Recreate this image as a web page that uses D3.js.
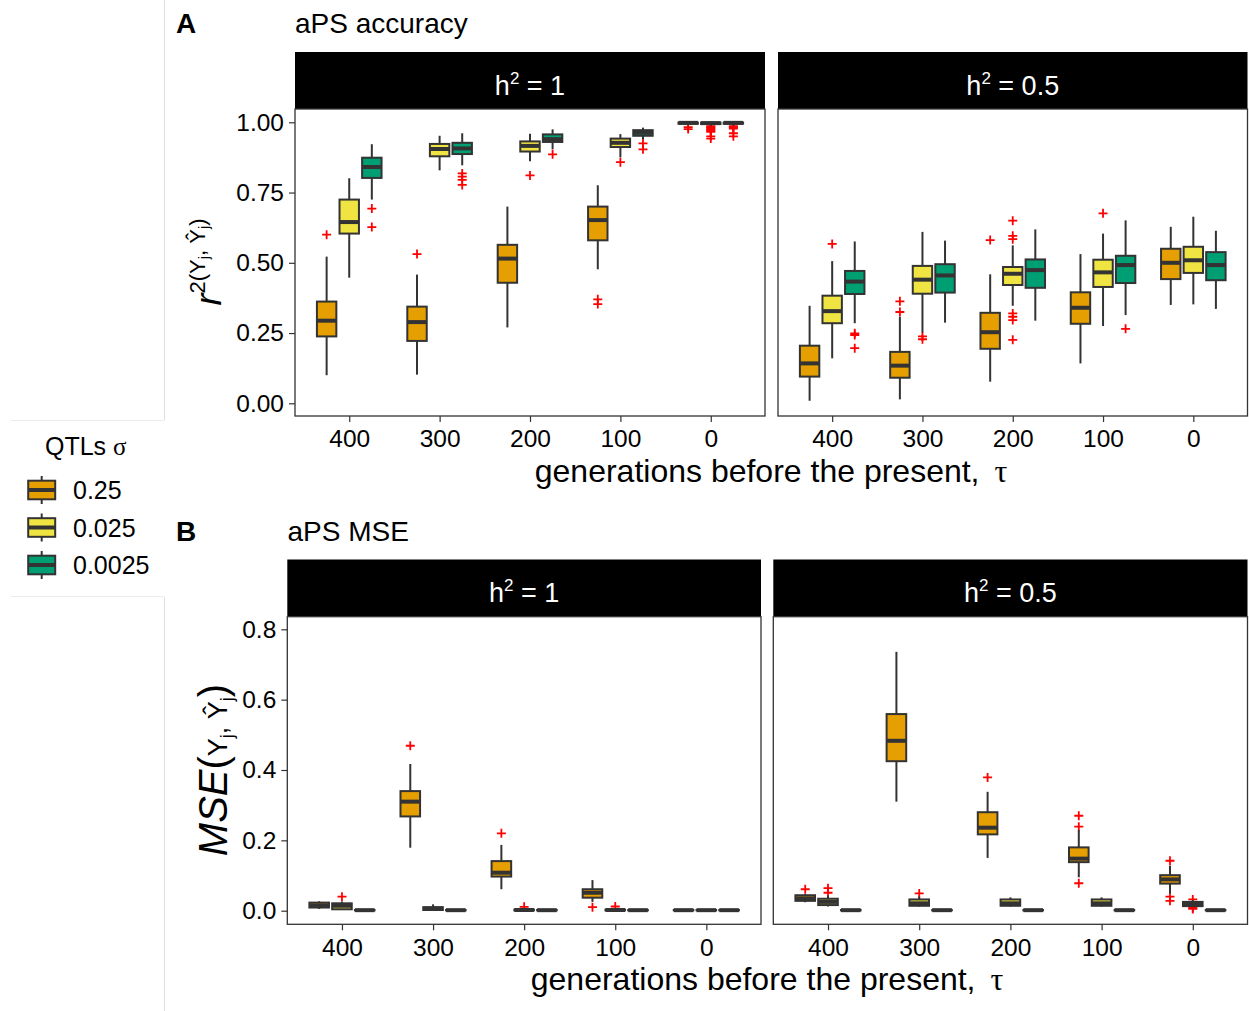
<!DOCTYPE html>
<html>
<head>
<meta charset="utf-8">
<script src="https://cdn.jsdelivr.net/npm/d3@7"></script>
<style>
  body { margin: 0; background: #fff; }
  svg { font-family: "Liberation Sans", Arial, Helvetica, sans-serif; }
</style>
</head>
<body>
<svg id="chart" width="1249" height="1011"></svg>
<script>
const gens = ["400", "300", "200", "100", "0"];
const groups = ["0.25", "0.025", "0.0025"];
const groupColors = ["#E69F00", "#F0E442", "#009E73"];

// rows: generation, QTL sigma, lower whisker, q1, median, q3, upper whisker, outliers
const accH1 = [
  ["400", "0.25",   0.100, 0.238, 0.294, 0.362, 0.522, [0.600]],
  ["400", "0.025",  0.447, 0.604, 0.645, 0.725, 0.801, []],
  ["400", "0.0025", 0.725, 0.802, 0.841, 0.874, 0.922, [0.693, 0.627]],
  ["300", "0.25",   0.102, 0.222, 0.289, 0.344, 0.458, [0.531]],
  ["300", "0.025",  0.829, 0.879, 0.905, 0.923, 0.952, []],
  ["300", "0.0025", 0.847, 0.887, 0.907, 0.927, 0.961, [0.818, 0.807, 0.795, 0.777]],
  ["200", "0.25",   0.270, 0.429, 0.515, 0.564, 0.700, []],
  ["200", "0.025",  0.861, 0.896, 0.916, 0.932, 0.959, [0.811]],
  ["200", "0.0025", 0.904, 0.930, 0.940, 0.957, 0.975, [0.886]],
  ["100", "0.25",   0.477, 0.580, 0.652, 0.700, 0.776, [0.370, 0.353]],
  ["100", "0.025",  0.875, 0.912, 0.927, 0.942, 0.958, [0.858]],
  ["100", "0.0025", 0.940, 0.952, 0.963, 0.972, 0.981, [0.925, 0.904]],
  ["0",   "0.25",   0.990, 0.995, 0.998, 0.999, 1.000, [0.983, 0.976]],
  ["0",   "0.025",  0.988, 0.994, 0.997, 0.999, 1.000, [0.986, 0.982, 0.978, 0.974, 0.970, 0.966, 0.950, 0.942]],
  ["0",   "0.0025", 0.989, 0.995, 0.998, 0.999, 1.000, [0.986, 0.982, 0.978, 0.961, 0.950]]
];

const accH05 = [
  ["400", "0.25",   0.009, 0.095, 0.142, 0.205, 0.347, []],
  ["400", "0.025",  0.160, 0.285, 0.328, 0.383, 0.506, [0.567]],
  ["400", "0.0025", 0.285, 0.389, 0.433, 0.471, 0.576, [0.249, 0.243, 0.196]],
  ["300", "0.25",   0.014, 0.091, 0.134, 0.183, 0.308, [0.363, 0.325]],
  ["300", "0.025",  0.252, 0.390, 0.440, 0.489, 0.610, [0.238, 0.228]],
  ["300", "0.0025", 0.287, 0.394, 0.455, 0.495, 0.579, []],
  ["200", "0.25",   0.077, 0.194, 0.253, 0.322, 0.459, [0.581]],
  ["200", "0.025",  0.347, 0.421, 0.461, 0.485, 0.562, [0.650, 0.596, 0.584, 0.320, 0.308, 0.296, 0.226]],
  ["200", "0.0025", 0.294, 0.411, 0.474, 0.512, 0.619, []],
  ["100", "0.25",   0.142, 0.283, 0.340, 0.395, 0.531, []],
  ["100", "0.025",  0.275, 0.414, 0.466, 0.511, 0.604, [0.676]],
  ["100", "0.0025", 0.314, 0.428, 0.492, 0.525, 0.651, [0.265]],
  ["0",   "0.25",   0.350, 0.442, 0.500, 0.550, 0.628, []],
  ["0",   "0.025",  0.352, 0.464, 0.509, 0.557, 0.664, []],
  ["0",   "0.0025", 0.336, 0.438, 0.492, 0.538, 0.614, []]
];

const mseH1 = [
  ["400", "0.25",   0.005, 0.009, 0.015, 0.023, 0.027, []],
  ["400", "0.025",  0.002, 0.004, 0.014, 0.021, 0.026, [0.040]],
  ["400", "0.0025", 0.000, 0.001, 0.0015, 0.002, 0.003, []],
  ["300", "0.25",   0.179, 0.268, 0.310, 0.340, 0.417, [0.469]],
  ["300", "0.025",  0.000, 0.002, 0.006, 0.010, 0.018, []],
  ["300", "0.0025", 0.000, 0.001, 0.0015, 0.002, 0.003, []],
  ["200", "0.25",   0.061, 0.097, 0.108, 0.141, 0.187, [0.220]],
  ["200", "0.025",  0.000, 0.001, 0.002, 0.003, 0.004, [0.011]],
  ["200", "0.0025", 0.000, 0.001, 0.0015, 0.002, 0.003, []],
  ["100", "0.25",   0.025, 0.037, 0.051, 0.061, 0.087, [0.010]],
  ["100", "0.025",  0.000, 0.001, 0.002, 0.003, 0.004, [0.012]],
  ["100", "0.0025", 0.000, 0.001, 0.0015, 0.002, 0.003, []],
  ["0",   "0.25",   0.000, 0.001, 0.0015, 0.002, 0.003, []],
  ["0",   "0.025",  0.000, 0.001, 0.0015, 0.002, 0.003, []],
  ["0",   "0.0025", 0.000, 0.001, 0.0015, 0.002, 0.003, []]
];

const mseH05 = [
  ["400", "0.25",   0.024, 0.028, 0.035, 0.044, 0.047, [0.061]],
  ["400", "0.025",  0.012, 0.016, 0.025, 0.034, 0.043, [0.064, 0.051]],
  ["400", "0.0025", 0.000, 0.001, 0.0015, 0.002, 0.003, []],
  ["300", "0.25",   0.310, 0.425, 0.483, 0.559, 0.736, []],
  ["300", "0.025",  0.012, 0.014, 0.021, 0.032, 0.040, [0.049]],
  ["300", "0.0025", 0.000, 0.001, 0.0015, 0.002, 0.003, []],
  ["200", "0.25",   0.150, 0.217, 0.236, 0.280, 0.338, [0.379]],
  ["200", "0.025",  0.012, 0.014, 0.021, 0.032, 0.038, []],
  ["200", "0.0025", 0.000, 0.001, 0.0015, 0.002, 0.003, []],
  ["100", "0.25",   0.095, 0.138, 0.148, 0.180, 0.229, [0.270, 0.239, 0.078]],
  ["100", "0.025",  0.012, 0.014, 0.021, 0.032, 0.038, []],
  ["100", "0.0025", 0.000, 0.001, 0.0015, 0.002, 0.003, []],
  ["0",   "0.25",   0.049, 0.077, 0.089, 0.101, 0.128, [0.142, 0.040, 0.028]],
  ["0",   "0.025",  0.011, 0.013, 0.019, 0.025, 0.030, [0.032, 0.008, 0.005]],
  ["0",   "0.0025", 0.000, 0.001, 0.0015, 0.002, 0.003, []]
];

const accTicks = [0, 0.25, 0.5, 0.75, 1];
const mseTicks = [0, 0.2, 0.4, 0.6, 0.8];

const svg = d3.select("#chart");
const color = d3.scaleOrdinal().domain(groups).range(groupColors);
const dark = "#333333";
const lw = 2;

// light frame around the legend cell
svg.append("line").attr("x1", 164.5).attr("x2", 164.5).attr("y1", 0).attr("y2", 420).attr("stroke", "#dedede");
svg.append("line").attr("x1", 164.5).attr("x2", 164.5).attr("y1", 597).attr("y2", 1011).attr("stroke", "#dedede");
svg.append("line").attr("x1", 11).attr("x2", 164.5).attr("y1", 420.5).attr("y2", 420.5).attr("stroke", "#ececec");
svg.append("line").attr("x1", 11).attr("x2", 164.5).attr("y1", 596.5).attr("y2", 596.5).attr("stroke", "#ececec");

function drawFacet(o) {
  const x = d3.scalePoint().domain(gens).range([o.x0, o.x1]).padding(0.6);
  const step = x.step();
  const dodge = d3.scaleBand().domain(groups).range([-0.375 * step, 0.375 * step]);
  const bw = step * 0.215;
  const y = o.y;

  // strip
  svg.append("rect").attr("x", o.x0).attr("y", o.stripTop)
    .attr("width", o.x1 - o.x0).attr("height", o.top - o.stripTop).attr("fill", "#000");
  const st = svg.append("text").attr("x", (o.x0 + o.x1) / 2).attr("y", o.stripTop + 42.5)
    .attr("text-anchor", "middle").attr("fill", "#fff").attr("font-size", 27);
  st.append("tspan").text("h");
  st.append("tspan").attr("dy", -11).attr("font-size", 17).text("2");
  st.append("tspan").attr("dy", 11).text(" = " + o.label);

  // panel
  svg.append("rect").attr("x", o.x0).attr("y", o.top)
    .attr("width", o.x1 - o.x0).attr("height", o.bottom - o.top)
    .attr("fill", "#fff");

  // x axis
  const ax = svg.append("g").attr("transform", `translate(0,${o.bottom})`)
    .call(d3.axisBottom(x).tickSize(6).tickPadding(8));
  ax.select(".domain").remove();
  ax.selectAll("line").attr("stroke", dark).attr("stroke-width", 1.2);
  ax.selectAll("text").attr("font-size", 24.5).attr("fill", "#000");

  if (o.showY) {
    const ay = svg.append("g").attr("transform", `translate(${o.x0},0)`)
      .call(d3.axisLeft(y).tickValues(o.ticks).tickFormat(o.fmt).tickSize(6).tickPadding(5));
    ay.select(".domain").remove();
    ay.selectAll("line").attr("stroke", dark).attr("stroke-width", 1.2);
    ay.selectAll("text").attr("font-size", 24.5).attr("fill", "#000");
  }

  const boxes = svg.append("g").selectAll("g")
    .data(o.rows).join("g")
    .attr("transform", d => `translate(${x(d[0]) + dodge(d[1]) + dodge.bandwidth() / 2},0)`);

  boxes.each(function (d) {
    const g = d3.select(this);
    d[7].forEach(v => {
      g.append("path")
        .attr("d", `M-4.5,${y(v)}H4.5M0,${y(v) - 4.5}V${y(v) + 4.5}`)
        .attr("stroke", "#ff0000").attr("stroke-width", 1.8);
    });
    g.append("line").attr("x1", 0).attr("x2", 0).attr("y1", y(d[6])).attr("y2", y(d[5]))
      .attr("stroke", dark).attr("stroke-width", lw);
    g.append("line").attr("x1", 0).attr("x2", 0).attr("y1", y(d[3])).attr("y2", y(d[2]))
      .attr("stroke", dark).attr("stroke-width", lw);
    g.append("rect").attr("x", -bw / 2).attr("width", bw)
      .attr("y", y(d[5])).attr("height", Math.max(0.01, y(d[3]) - y(d[5])))
      .attr("fill", color(d[1])).attr("stroke", dark).attr("stroke-width", lw);
    g.append("line").attr("x1", -bw / 2).attr("x2", bw / 2).attr("y1", y(d[4])).attr("y2", y(d[4]))
      .attr("stroke", dark).attr("stroke-width", lw * 2);
  });

  // panel border on top
  svg.append("rect").attr("x", o.x0).attr("y", o.top)
    .attr("width", o.x1 - o.x0).attr("height", o.bottom - o.top)
    .attr("fill", "none").attr("stroke", dark).attr("stroke-width", 1.3);
}

// ---- Panel A
const yA = d3.scaleLinear().domain([0, 1]).range([403.3, 122.3]);
drawFacet({ x0: 295, x1: 765, top: 109, bottom: 416, stripTop: 52, y: yA, rows: accH1,
  label: "1", showY: true, ticks: accTicks, fmt: d3.format(".2f") });
drawFacet({ x0: 778, x1: 1247.5, top: 109, bottom: 416, stripTop: 52, y: yA, rows: accH05,
  label: "0.5", showY: false });

// ---- Panel B
const yB = d3.scaleLinear().domain([0, 0.8]).range([910.7, 629.3]);
drawFacet({ x0: 287.3, x1: 761, top: 616.7, bottom: 924.3, stripTop: 559.5, y: yB, rows: mseH1,
  label: "1", showY: true, ticks: mseTicks, fmt: d3.format(".1f") });
drawFacet({ x0: 773.3, x1: 1247.5, top: 616.7, bottom: 924.3, stripTop: 559.5, y: yB, rows: mseH05,
  label: "0.5", showY: false });

// titles
svg.append("text").attr("x", 176).attr("y", 33).attr("font-size", 28).attr("font-weight", "bold").text("A");
svg.append("text").attr("x", 295).attr("y", 33).attr("font-size", 28).text("aPS accuracy");
svg.append("text").attr("x", 176).attr("y", 541).attr("font-size", 28).attr("font-weight", "bold").text("B");
svg.append("text").attr("x", 287.5).attr("y", 541).attr("font-size", 28).text("aPS MSE");

// x axis titles
[[771, 482], [767, 990]].forEach(([cx, by]) => {
  const t = svg.append("text").attr("x", cx).attr("y", by).attr("text-anchor", "middle").attr("font-size", 32);
  t.append("tspan").text("generations before the present,  ");
  t.append("tspan").attr("dx", 6).attr("font-family", "'Liberation Serif', 'DejaVu Serif', serif").text("τ");
});

// y axis title A
const ta = svg.append("text").attr("transform", "translate(221,262) rotate(-90)")
  .attr("text-anchor", "middle").attr("font-size", 22);
ta.append("tspan").attr("font-size", 36).attr("font-style", "italic").text("r");
ta.append("tspan").attr("dy", -16).text("2(Y");
ta.append("tspan").attr("dy", 4).attr("font-size", 15).text("j");
ta.append("tspan").attr("dy", -4).text(", Ŷ");
ta.append("tspan").attr("dy", 4).attr("font-size", 15).text("j");
ta.append("tspan").attr("dy", -4).text(")");

// y axis title B
const tb = svg.append("text").attr("transform", "translate(227,770) rotate(-90)")
  .attr("text-anchor", "middle").attr("font-size", 40);
tb.append("tspan").attr("font-style", "italic").text("MSE");
tb.append("tspan").text("(");
tb.append("tspan").attr("font-size", 27).text("Y");
tb.append("tspan").attr("font-size", 18).attr("dy", 6).text("j");
tb.append("tspan").attr("font-size", 27).attr("dy", -6).text(", Ŷ");
tb.append("tspan").attr("font-size", 18).attr("dy", 6).text("j");
tb.append("tspan").attr("dy", -6).text(")");

// legend
const leg = svg.append("g");
const lt = leg.append("text").attr("x", 45).attr("y", 455).attr("font-size", 25);
lt.append("tspan").text("QTLs ");
lt.append("tspan").attr("font-family", "'Liberation Serif', 'DejaVu Serif', serif").text("σ");

const keys = leg.selectAll("g.key").data(groups).join("g")
  .attr("transform", (d, i) => `translate(0,${490 + i * 37.5})`);
keys.append("line").attr("x1", 41.7).attr("x2", 41.7).attr("y1", -14).attr("y2", 14)
  .attr("stroke", dark).attr("stroke-width", lw);
keys.append("rect").attr("x", 28.2).attr("y", -9.3).attr("width", 27).attr("height", 18.6)
  .attr("fill", d => color(d)).attr("stroke", dark).attr("stroke-width", lw);
keys.append("line").attr("x1", 28.2).attr("x2", 55.2).attr("y1", 0).attr("y2", 0)
  .attr("stroke", dark).attr("stroke-width", lw * 2);
keys.append("text").attr("x", 73).attr("y", 9.3).attr("font-size", 25).text(d => d);
</script>
</body>
</html>
